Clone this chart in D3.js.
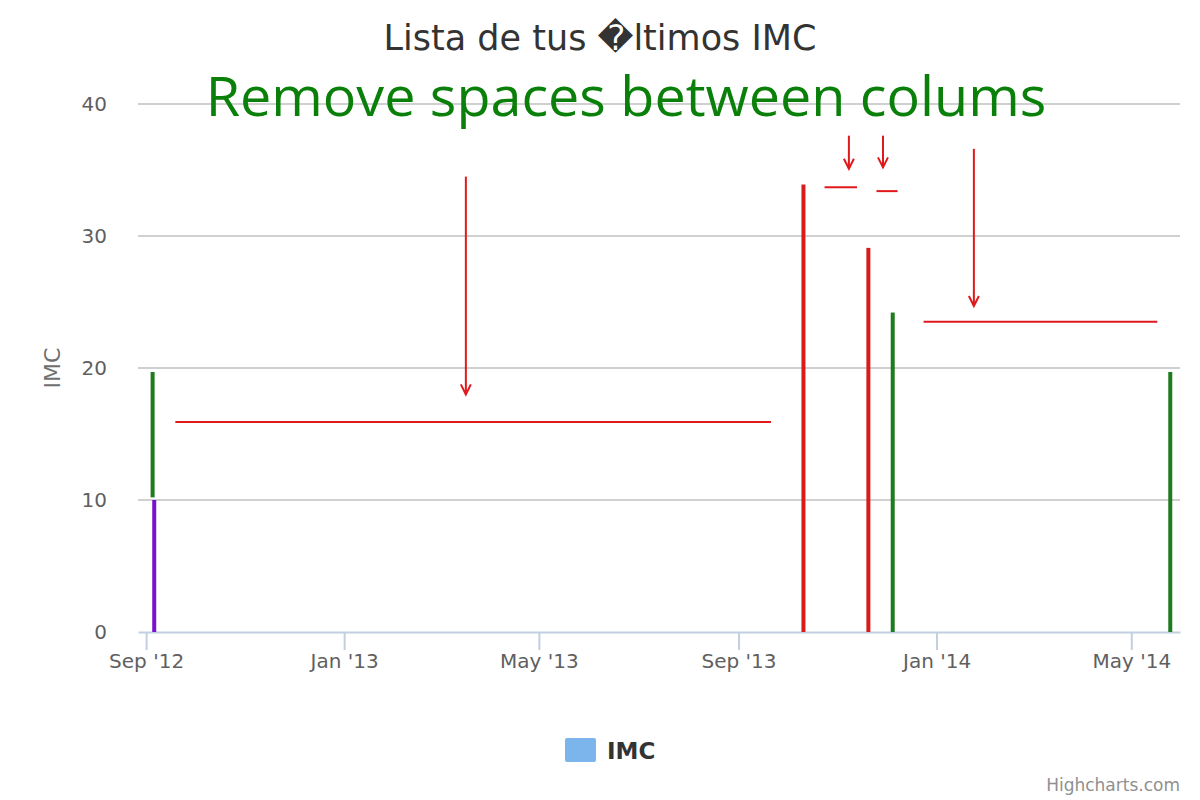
<!DOCTYPE html>
<html>
<head>
<meta charset="utf-8">
<script src="https://cdn.jsdelivr.net/npm/d3@7"></script>
<style>
  body { margin: 0; background: #fff; }
  svg { display: block; font-family: "DejaVu Sans", Verdana, sans-serif; }
</style>
</head>
<body>
<svg id="chart" width="1200" height="800"></svg>
<script>
// Data
const dates = ["2012-09-05", "2012-09-06", "2013-10-11", "2013-11-20", "2013-12-05", "2014-05-25"];
const lows = [10.2, 0, 0, 0, 0, 0];
const highs = [19.7, 10, 33.9, 29.1, 24.2, 19.7];
const barColors = ["#1e7b1e", "#7a12cc", "#d81c1c", "#d81c1c", "#1e7b1e", "#1e7b1e"];
const yTicks = [0, 10, 20, 30, 40];

// Hand-drawn notes: arrows [date, fromValue, toValue], lines [fromDate, toDate, value]
const arrowNotes = [
  ["2013-03-17", 34.5, 18.0],
  ["2013-11-08", 37.6, 35.1],
  ["2013-11-29", 37.6, 35.2],
  ["2014-01-24", 36.6, 24.7]
];
const lineNotes = [
  ["2012-09-19", "2013-09-21", 15.9],
  ["2013-10-24", "2013-11-13", 33.7],
  ["2013-11-25", "2013-12-08", 33.4],
  ["2013-12-24", "2014-05-17", 23.5]
];

const parse = d3.utcParse("%Y-%m-%d");
const margin = { top: 104, right: 20, bottom: 168, left: 138 };
const width = 1200, height = 800;

const svg = d3.select("#chart");

const x = d3.scaleUtc()
  .domain([parse("2012-08-27"), parse("2014-05-31")])
  .range([margin.left, width - margin.right]);
const y = d3.scaleLinear()
  .domain([0, 40])
  .range([height - margin.bottom, margin.top]);

// Grid
svg.append("g")
  .selectAll("line")
  .data(yTicks.slice(1))
  .join("line")
  .attr("x1", margin.left).attr("x2", width - margin.right)
  .attr("y1", d => y(d)).attr("y2", d => y(d))
  .attr("stroke", "#c0c0c0").attr("stroke-width", 1.5);

// Y axis labels
svg.append("g")
  .selectAll("text")
  .data(yTicks)
  .join("text")
  .attr("x", 107).attr("y", d => y(d) + 7)
  .attr("text-anchor", "end")
  .attr("fill", "#606060")
  .attr("font-size", 20)
  .text(d => d);

svg.append("text")
  .attr("transform", `translate(60, ${(y(0) + y(40)) / 2}) rotate(-90)`)
  .attr("text-anchor", "middle")
  .attr("fill", "#707070")
  .attr("font-size", 22)
  .text("IMC");

// X axis
const xAxis = svg.append("g")
  .attr("transform", `translate(0, ${y(0)})`)
  .call(d3.axisBottom(x)
    .ticks(d3.utcMonth.every(4))
    .tickFormat(d3.utcFormat("%b '%y"))
    .tickSizeInner(18)
    .tickSizeOuter(0)
    .tickPadding(4));
xAxis.select(".domain").attr("stroke", "#c0d0e0").attr("stroke-width", 2);
xAxis.selectAll(".tick line").attr("stroke", "#c0d0e0").attr("stroke-width", 2);
xAxis.selectAll(".tick text")
  .attr("fill", "#606060")
  .attr("font-size", 20)
  .attr("font-family", "DejaVu Sans, sans-serif");

// Columns
const barW = 4;
svg.append("g")
  .selectAll("rect")
  .data(dates)
  .join("rect")
  .attr("x", d => x(parse(d)) - barW / 2)
  .attr("width", barW)
  .attr("y", (d, i) => y(highs[i]))
  .attr("height", (d, i) => y(lows[i]) - y(highs[i]))
  .attr("fill", (d, i) => barColors[i]);

// Title
svg.append("text")
  .attr("x", 600).attr("y", 50)
  .attr("text-anchor", "middle")
  .attr("fill", "#333333")
  .attr("font-size", 35)
  .text("Lista de tus \uFFFDltimos IMC");

// Notes (red)
const red = "#e0191c";
const notes = svg.append("g").attr("stroke", red).attr("stroke-width", 2).attr("fill", "none");
notes.selectAll("line.hl")
  .data(lineNotes)
  .join("line")
  .attr("class", "hl")
  .attr("x1", d => x(parse(d[0]))).attr("x2", d => x(parse(d[1])))
  .attr("y1", d => y(d[2])).attr("y2", d => y(d[2]));

const arrows = notes.selectAll("g.arrow")
  .data(arrowNotes)
  .join("g")
  .attr("class", "arrow");
arrows.append("line")
  .attr("x1", d => x(parse(d[0]))).attr("x2", d => x(parse(d[0])))
  .attr("y1", d => y(d[1])).attr("y2", d => y(d[2]));
arrows.append("path")
  .attr("d", d => {
    const ax = x(parse(d[0])), ay = y(d[2]);
    return `M${ax - 5},${ay - 10} L${ax},${ay} L${ax + 5},${ay - 10}`;
  });

// Green note
svg.append("text")
  .attr("x", 626).attr("y", 116)
  .attr("text-anchor", "middle")
  .attr("fill", "#0a800a")
  .attr("font-family", "Open Sans, sans-serif")
  .attr("font-size", 55.7)
  .text("Remove spaces between colums");

// Legend
svg.append("rect")
  .attr("x", 565).attr("y", 738)
  .attr("width", 31).attr("height", 24).attr("rx", 2)
  .attr("fill", "#7cb5ec");
svg.append("text")
  .attr("x", 607).attr("y", 759)
  .attr("fill", "#333333")
  .attr("font-size", 23).attr("font-weight", "bold")
  .text("IMC");

// Credits
svg.append("text")
  .attr("x", 1180).attr("y", 791)
  .attr("text-anchor", "end")
  .attr("fill", "#909090")
  .attr("font-size", 17)
  .text("Highcharts.com");
</script>
</body>
</html>
